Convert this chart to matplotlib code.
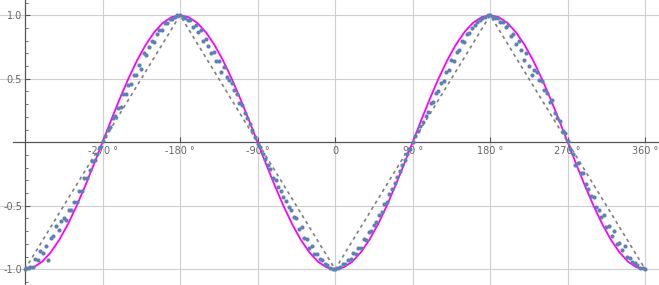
import matplotlib
matplotlib.use('Agg')
import matplotlib.pyplot as plt
import numpy as np

# --- data ---

# magenta curve, sampled every 10 degrees
curve_x = np.arange(-360, 361, 10)
curve_y = [-1.0, -0.985, -0.94, -0.866, -0.766, -0.643, -0.5, -0.342, -0.174, 0.0,
           0.174, 0.342, 0.5, 0.643, 0.766, 0.866, 0.94, 0.985, 1.0,
           0.985, 0.94, 0.866, 0.766, 0.643, 0.5, 0.342, 0.174, 0.0,
           -0.174, -0.342, -0.5, -0.643, -0.766, -0.866, -0.94, -0.985, -1.0,
           -0.985, -0.94, -0.866, -0.766, -0.643, -0.5, -0.342, -0.174, 0.0,
           0.174, 0.342, 0.5, 0.643, 0.766, 0.866, 0.94, 0.985, 1.0,
           0.985, 0.94, 0.866, 0.766, 0.643, 0.5, 0.342, 0.174, 0.0,
           -0.174, -0.342, -0.5, -0.643, -0.766, -0.866, -0.94, -0.985, -1.0]

# grey dashed triangle
tri_x = [-360, -180, 0, 180, 360]
tri_y = [-1, 1, -1, 1, -1]

# blue points, one every 3 degrees from -360 to 360
pts_x = np.arange(-360, 361, 3)
pts_y = [
    # -360 .. -180
    -1.00, -0.99, -0.98, -0.98, -0.92, -0.93, -0.86, -0.87, -0.82, -0.93,
    -0.75, -0.74, -0.66, -0.69, -0.62, -0.60, -0.61, -0.53, -0.53, -0.47,
    -0.47, -0.38, -0.38, -0.28, -0.28, -0.22, -0.15, -0.14, -0.09, -0.04,
    0.01, 0.05, 0.10, 0.12, 0.19, 0.21, 0.27, 0.28, 0.38, 0.38,
    0.45, 0.46, 0.53, 0.53, 0.61, 0.58, 0.70, 0.69, 0.75, 0.80,
    0.79, 0.85, 0.88, 0.88, 0.94, 0.94, 0.97, 0.97, 0.99, 1.00,
    1.00,
    # -177 .. 0
    0.99, 0.98, 0.96, 0.96, 0.91, 0.92, 0.87, 0.88, 0.80, 0.81,
    0.76, 0.70, 0.71, 0.64, 0.64, 0.55, 0.59, 0.51, 0.49, 0.47,
    0.41, 0.38, 0.31, 0.29, 0.23, 0.19, 0.14, 0.10, 0.04, -0.01,
    -0.04, -0.09, -0.13, -0.18, -0.21, -0.28, -0.30, -0.35, -0.38, -0.43,
    -0.46, -0.51, -0.53, -0.59, -0.60, -0.68, -0.67, -0.75, -0.76, -0.83,
    -0.82, -0.88, -0.88, -0.92, -0.93, -0.96, -0.97, -0.99, -1.00, -1.00,
    # 3 .. 180
    -0.99, -0.98, -0.96, -0.96, -0.93, -0.92, -0.87, -0.88, -0.83, -0.83,
    -0.76, -0.77, -0.71, -0.70, -0.65, -0.63, -0.57, -0.55, -0.49, -0.47,
    -0.41, -0.37, -0.32, -0.27, -0.23, -0.18, -0.14, -0.09, -0.05, 0.00,
    0.05, 0.09, 0.13, 0.16, 0.21, 0.24, 0.31, 0.32, 0.39, 0.40,
    0.47, 0.48, 0.55, 0.57, 0.65, 0.64, 0.71, 0.73, 0.80, 0.79,
    0.85, 0.86, 0.90, 0.92, 0.95, 0.96, 0.98, 0.99, 1.00, 1.00,
    # 183 .. 360
    0.99, 0.98, 0.98, 0.95, 0.95, 0.91, 0.92, 0.84, 0.85, 0.77,
    0.80, 0.73, 0.65, 0.70, 0.60, 0.53, 0.57, 0.55, 0.49, 0.48,
    0.41, 0.39, 0.32, 0.33, 0.23, 0.19, 0.17, 0.09, 0.07, 0.01,
    -0.05, -0.09, -0.18, -0.16, -0.24, -0.24, -0.33, -0.37, -0.42, -0.43,
    -0.51, -0.53, -0.59, -0.57, -0.67, -0.66, -0.74, -0.70, -0.80, -0.79,
    -0.85, -0.82, -0.90, -0.91, -0.94, -0.95, -0.97, -0.99, -0.99, -1.00,
]

xticks = [-270, -180, -90, 0, 90, 180, 270, 360]
xlabels = ['-270 \u00b0', '-180 \u00b0', '-90 \u00b0', '0',
           '90 \u00b0', '180 \u00b0', '270 \u00b0', '360 \u00b0']
yticks = [-1.0, -0.5, 0.5, 1.0]
ylabels = ['-1.0', '-0.5', '0.5', '1.0']

# --- figure ---
fig = plt.figure(figsize=(6.59, 2.85), dpi=100)
ax = fig.add_axes([0, 0, 1, 1])
ax.set_xlim(-389, 376)
ax.set_ylim(-1.124, 1.12)

# grid
for gx in xticks:
    ax.axvline(gx, color='#cfcfcf', lw=0.8, zorder=0)
for gy in yticks:
    ax.axhline(gy, color='#cfcfcf', lw=0.8, zorder=0)

ax.plot(curve_x, curve_y, color='#ff00ff', lw=1.3, zorder=2)
ax.plot(tri_x, tri_y, color='#7f7f7f', lw=1.2, dashes=(2, 2.2), zorder=3)
ax.scatter(pts_x, pts_y, s=9, color='#5e81b5', linewidths=0, zorder=4)

# axes through the data
for side in ['top', 'right']:
    ax.spines[side].set_visible(False)
ax.spines['left'].set_position(('data', -360))
ax.spines['bottom'].set_position(('data', 0))
ax.spines['bottom'].set_bounds(-374, 376)
for side in ['left', 'bottom']:
    ax.spines[side].set_color('#555555')
    ax.spines[side].set_linewidth(0.9)
    ax.spines[side].set_zorder(1)

ax.set_xticks(xticks)
ax.set_xticklabels(xlabels)
ax.set_yticks(yticks)
ax.set_yticklabels(ylabels)
ax.set_yticks(np.arange(-1.1, 1.11, 0.1), minor=True)
ax.tick_params(axis='both', which='major', direction='in', length=3.5,
               width=0.8, color='#555555', labelsize=7, labelcolor='#666666')
ax.tick_params(axis='x', which='major', pad=3)
ax.tick_params(axis='y', which='major', pad=2)
ax.tick_params(axis='y', which='minor', direction='in', length=2,
               width=0.6, color='#555555')
ax.tick_params(axis='x', which='minor', length=0)

fig.savefig('out.png', dpi=100)
